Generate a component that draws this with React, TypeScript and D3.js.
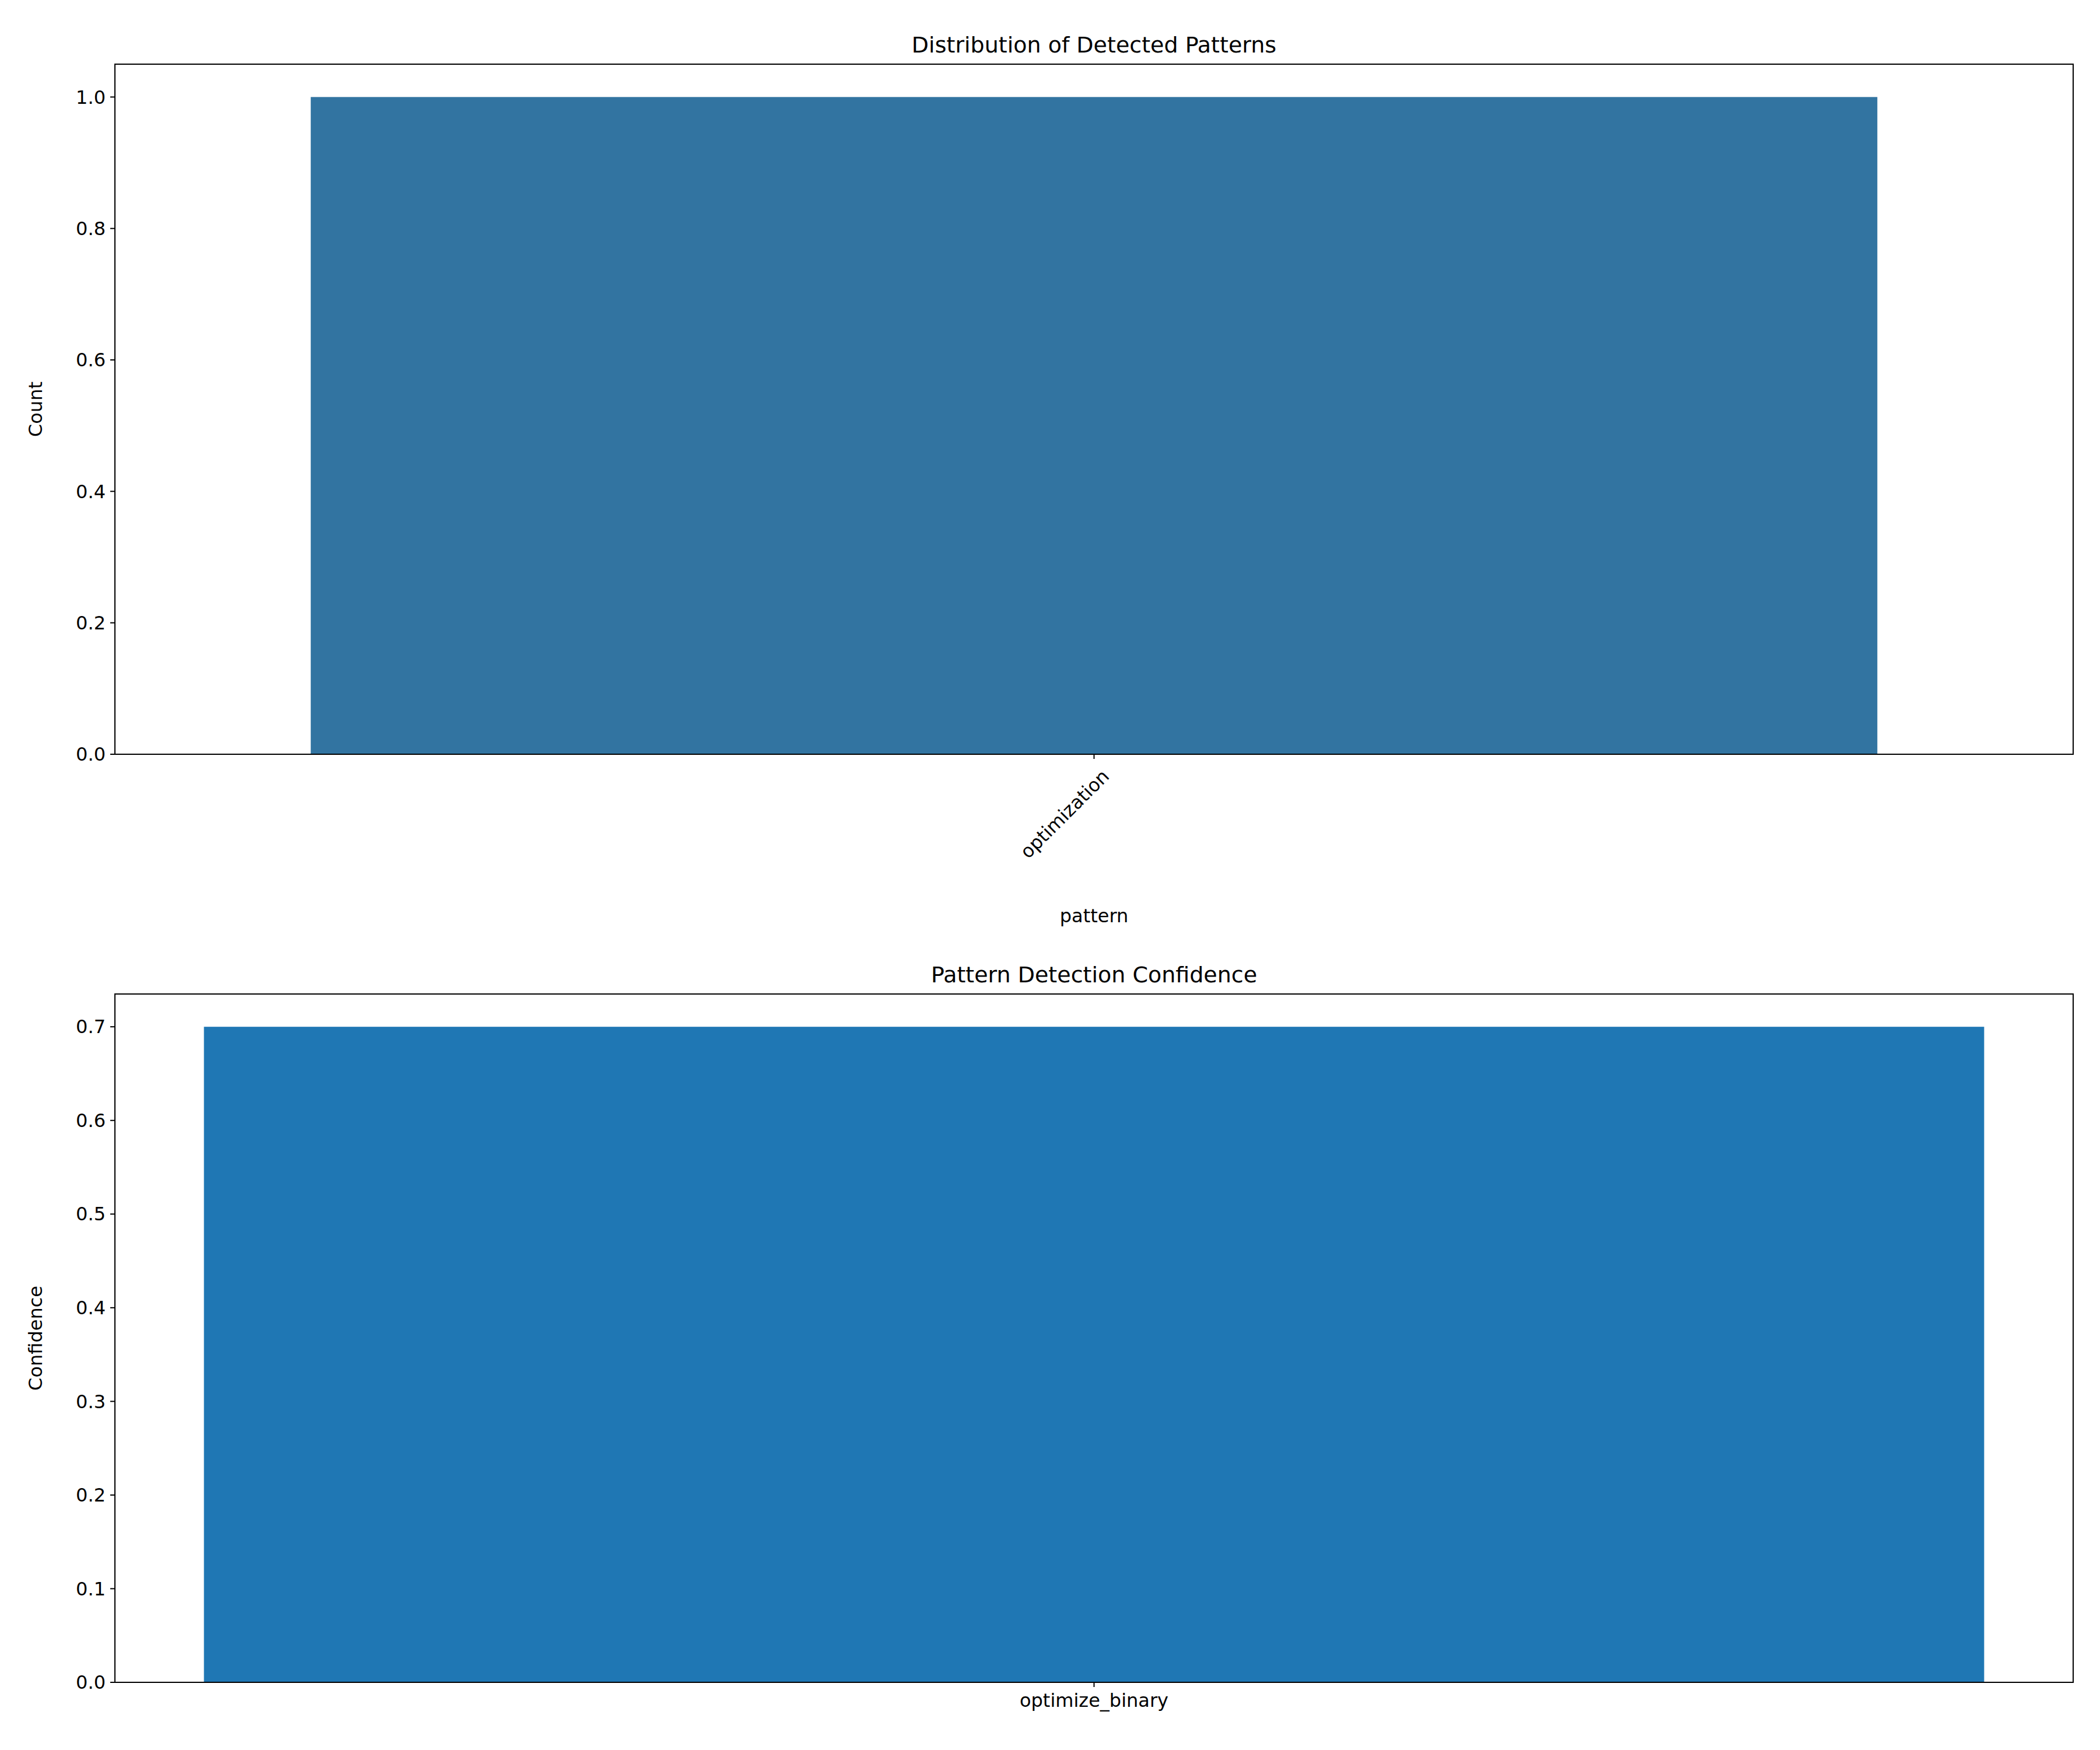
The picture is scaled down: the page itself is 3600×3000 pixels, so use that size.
import { useEffect } from 'react';
import * as d3 from 'd3';

// Top panel: count of detected patterns (seaborn countplot)
const patternCategories = ['optimization'];
const patternCounts = [1];
const countTicks = [0, 0.2, 0.4, 0.6, 0.8, 1.0];

// Bottom panel: confidence per pattern (matplotlib bar)
const confidenceCategories = ['optimize_binary'];
const confidenceValues = [0.7];
const confidenceTicks = [0, 0.1, 0.2, 0.3, 0.4, 0.5, 0.6, 0.7];

const W = 3600;
const H = 3000;
const font = 'DejaVu Sans, sans-serif';
const tickFont = 32;
const titleFont = 38;

type PanelProps = {
  top: number;
  bottom: number;
  categories: string[];
  values: number[];
  ticks: number[];
  yMax: number;
  xPad: number; // half-width of x domain around the single category
  color: string;
  title: string;
  yLabel: string;
  xLabel?: string;
  rotate: boolean;
};

const left = 197;
const right = 3554;

function Panel(p: PanelProps) {
  const x = d3.scaleLinear().domain([-p.xPad, p.categories.length - 1 + p.xPad]).range([left, right]);
  const y = d3.scaleLinear().domain([0, p.yMax]).range([p.bottom, p.top]);
  const barW = x(0.4) - x(-0.4);
  const fmt = d3.format('.1f');
  return (
    <g fontFamily={font}>
      {p.categories.map((c, i) => (
        <rect key={c} x={x(i - 0.4)} y={y(p.values[i])} width={barW} height={p.bottom - y(p.values[i])} fill={p.color} />
      ))}
      <rect x={left} y={p.top} width={right - left} height={p.bottom - p.top} fill="none" stroke="#000" strokeWidth={2} />
      {p.ticks.map((t) => (
        <g key={t} transform={`translate(0,${y(t)})`}>
          <line x1={left - 8} x2={left} stroke="#000" strokeWidth={2} />
          <text x={left - 16} dy="0.35em" textAnchor="end" fontSize={tickFont}>{fmt(t)}</text>
        </g>
      ))}
      {p.categories.map((c, i) => (
        <g key={c} transform={`translate(${x(i)},${p.bottom})`}>
          <line y2={8} stroke="#000" strokeWidth={2} />
          {p.rotate ? (
            <text transform="translate(12,24) rotate(-45)" textAnchor="end" dy="0.7em" fontSize={tickFont}>{c}</text>
          ) : (
            <text y={18} dy="0.75em" textAnchor="middle" fontSize={tickFont}>{c}</text>
          )}
        </g>
      ))}
      <text x={(left + right) / 2} y={p.top - 20} textAnchor="middle" fontSize={titleFont}>{p.title}</text>
      <text transform={`translate(72,${(p.top + p.bottom) / 2}) rotate(-90)`} textAnchor="middle" fontSize={tickFont}>{p.yLabel}</text>
      {p.xLabel && (
        <text x={(left + right) / 2} y={1581} textAnchor="middle" fontSize={tickFont}>{p.xLabel}</text>
      )}
    </g>
  );
}

export default function App() {
  useEffect(() => {
    document.body.style.margin = '0';
  }, []);
  return (
    <svg width={W} height={H} style={{ display: 'block', background: '#fff' }}>
      <Panel top={110} bottom={1293} categories={patternCategories} values={patternCounts} ticks={countTicks}
        yMax={1.05} xPad={0.5} color="#3274a1" title="Distribution of Detected Patterns" yLabel="Count" xLabel="pattern" rotate />
      <Panel top={1704} bottom={2884} categories={confidenceCategories} values={confidenceValues} ticks={confidenceTicks}
        yMax={0.735} xPad={0.44} color="#1f77b4" title="Pattern Detection Confidence" yLabel="Confidence" rotate={false} />
    </svg>
  );
}
